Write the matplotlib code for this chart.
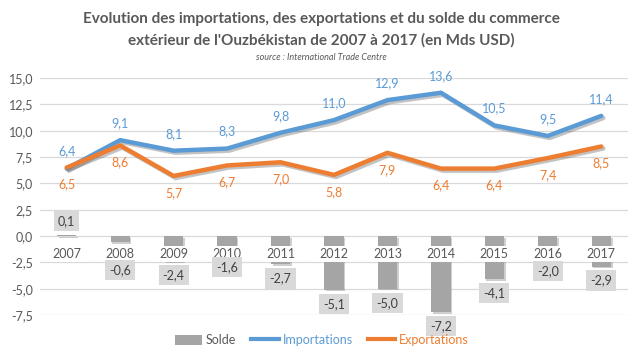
import matplotlib.pyplot as plt
import matplotlib.patheffects as pe
from matplotlib.patches import Rectangle
from matplotlib.lines import Line2D

plt.rcParams["font.family"] = ["Lato", "DejaVu Sans"]

years = ["2007", "2008", "2009", "2010", "2011", "2012", "2013", "2014", "2015", "2016", "2017"]
importations = [6.4, 9.1, 8.1, 8.3, 9.8, 11.0, 12.9, 13.6, 10.5, 9.5, 11.4]
exportations = [6.5, 8.6, 5.7, 6.7, 7.0, 5.8, 7.9, 6.4, 6.4, 7.4, 8.5]
solde = [0.1, -0.6, -2.4, -1.6, -2.7, -5.1, -5.0, -7.2, -4.1, -2.0, -2.9]

BLUE = "#5b9bd5"
ORANGE = "#ed7d31"
GREY_BAR = "#a5a5a5"
TXT = "#595959"
GRID = "#d9d9d9"


def fmt(v):
    return f"{v:.1f}".replace(".", ",")


def px(p):
    # pixels -> points at dpi 100
    return p * 0.72


fig = plt.figure(figsize=(6.43, 3.6), dpi=100)
ax = fig.add_axes([40 / 643, 1 - 315 / 360, 588 / 643, 237 / 360])
ax.set_xlim(-0.5, len(years) - 0.5)
ax.set_ylim(-7.5, 15)
for s in ax.spines.values():
    s.set_visible(False)
ax.set_yticks([-7.5, -5, -2.5, 0, 2.5, 5, 7.5, 10, 12.5, 15])
ax.set_yticklabels([fmt(v) for v in ax.get_yticks()], color=TXT, fontsize=9)
ax.tick_params(axis="y", length=0, pad=px(7))
ax.set_xticks([])
ax.grid(axis="y", color=GRID, lw=0.9)
ax.set_axisbelow(True)

x = list(range(len(years)))
shadow = [pe.SimplePatchShadow(offset=(1.2, -1.2), shadow_rgbFace="#777777", alpha=0.35), pe.Normal()]
bars = ax.bar(x, solde, width=0.36, color=GREY_BAR, zorder=2)
for b in bars:
    b.set_path_effects(shadow)

line_shadow = [pe.SimpleLineShadow(offset=(1.5, -1.5), shadow_color="#555555", alpha=0.35), pe.Normal()]
ax.plot(x, importations, color=BLUE, lw=3.2, solid_capstyle="round", zorder=4,
        path_effects=line_shadow)
ax.plot(x, exportations, color=ORANGE, lw=3.2, solid_capstyle="round", zorder=4,
        path_effects=line_shadow)

# category labels next to the zero line, over the bars
for i, y in enumerate(years):
    ax.annotate(y, (i, 0), xytext=(0, -px(18)), textcoords="offset points",
                ha="center", va="center", fontsize=9, color=TXT, zorder=5,
                bbox=dict(facecolor="white", edgecolor="none", pad=1.6))

for i, v in enumerate(importations):
    ax.annotate(fmt(v), (i, v), xytext=(0, px(17)), textcoords="offset points",
                ha="center", va="center", fontsize=9, color=BLUE, zorder=6)
for i, v in enumerate(exportations):
    ax.annotate(fmt(v), (i, v), xytext=(0, -px(17)), textcoords="offset points",
                ha="center", va="center", fontsize=9, color=ORANGE, zorder=6)

for i, v in enumerate(solde):
    if v >= 0:
        off = px(14)
    elif v > -1.5:
        off = -px(28)
    else:
        off = -px(14)
    ax.annotate(fmt(v), (i, v), xytext=(0, off), textcoords="offset points",
                ha="center", va="center", fontsize=9, color="#404040", zorder=6,
                bbox=dict(facecolor="#d9d9d9", edgecolor="none", pad=3))

fig.text(0.5, 1 - 19 / 360, "Evolution des importations, des exportations et du solde du commerce",
         ha="center", va="center", fontsize=11, fontweight="bold", color=TXT)
fig.text(0.5, 1 - 40 / 360, "extérieur de l'Ouzbékistan de 2007 à 2017 (en Mds USD)",
         ha="center", va="center", fontsize=11, fontweight="bold", color=TXT)
fig.text(0.5, 1 - 57 / 360, "source : International Trade Centre",
         ha="center", va="center", fontsize=6.5, style="italic", color=TXT)

handles = [
    Rectangle((0, 0), 1, 1, facecolor=GREY_BAR, edgecolor="none"),
    Line2D([], [], color=BLUE, lw=3),
    Line2D([], [], color=ORANGE, lw=3),
]
leg = fig.legend(handles, ["Solde", "Importations", "Exportations"], loc="center",
                 bbox_to_anchor=(0.5, 1 - 340 / 360), ncol=3, frameon=False,
                 fontsize=9, handlelength=2.2, handleheight=0.9, columnspacing=1.2,
                 handletextpad=0.3)
for t, c in zip(leg.get_texts(), [TXT, BLUE, ORANGE]):
    t.set_color(c)

fig.savefig("out.png", dpi=100)
